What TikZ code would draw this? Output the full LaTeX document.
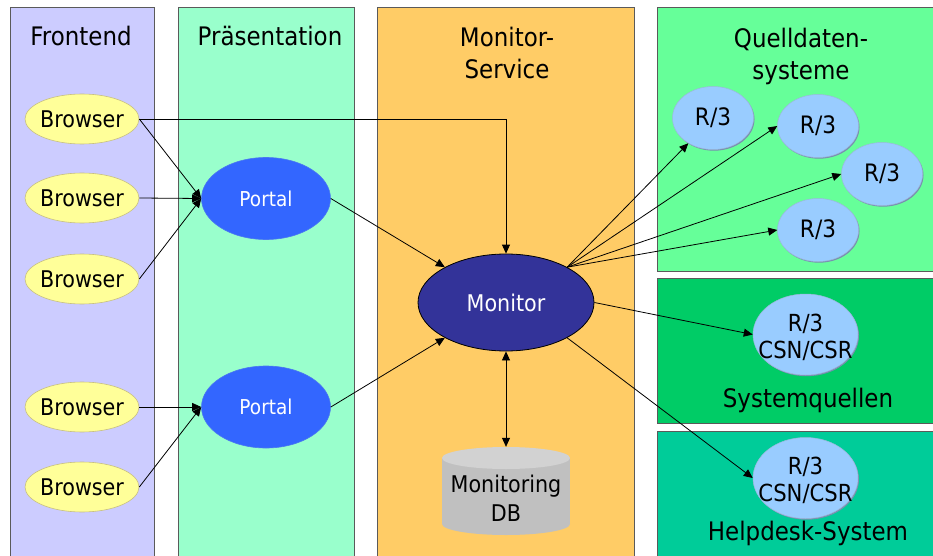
\documentclass[tikz,border=0pt]{standalone}
\usepackage{fontspec}
\setmainfont{DejaVu Sans}[FakeStretch=0.9]
\usetikzlibrary{shapes.geometric,arrows.meta}
\definecolor{cFront}{HTML}{CCCCFF}
\definecolor{cPres}{HTML}{99FFCC}
\definecolor{cMonS}{HTML}{FFCC66}
\definecolor{cQuell}{HTML}{66FF99}
\definecolor{cSysQ}{HTML}{00CC66}
\definecolor{cHelp}{HTML}{00CC99}
\definecolor{cLaneBorder}{HTML}{5A5A5A}
\definecolor{cBrowser}{HTML}{FFFF99}
\definecolor{cBrowserB}{HTML}{C8C080}
\definecolor{cPortal}{HTML}{3366FF}
\definecolor{cPortalB}{HTML}{4A78F0}
\definecolor{cMonitor}{HTML}{333399}
\definecolor{cRthree}{HTML}{99CCFF}
\definecolor{cRthreeB}{HTML}{9CB8DC}
\definecolor{cRshadow}{HTML}{7890B0}
\definecolor{cDBbody}{HTML}{C0C0C0}
\definecolor{cDBtop}{HTML}{D2D2D2}
\begin{document}
\begin{tikzpicture}[x=1pt,y=-1pt,
  lane/.style={draw=cLaneBorder, line width=0.9pt},
  title/.style={font=\fontsize{25.5}{32}\selectfont, inner sep=0pt},
  browser/.style={ellipse, draw=cBrowserB, fill=cBrowser, line width=0.6pt,
    minimum width=114, minimum height=50, inner sep=0pt,
    font=\fontsize{23}{27}\selectfont},
  portal/.style={ellipse, draw=cPortalB, fill=cPortal, line width=0.6pt,
    minimum width=129, minimum height=82, inner sep=0pt, text=white,
    font=\fontsize{20.5}{24}\selectfont},
  monitor/.style={ellipse, draw=black, fill=cMonitor, line width=0.8pt,
    minimum width=176, minimum height=97, inner sep=0pt, text=white,
    font=\fontsize{23}{27}\selectfont},
  rshade/.style={preaction={fill=cRshadow, transform canvas={shift={(1pt,-1.2pt)}}}},
  rthree/.style={ellipse, draw=cRthreeB, fill=cRthree, line width=0.5pt, rshade,
    minimum width=81, minimum height=63, inner sep=0pt,
    font=\fontsize{24}{28}\selectfont},
  rbig/.style={ellipse, draw=cRthreeB, fill=cRthree, line width=0.5pt, rshade,
    minimum width=105, minimum height=81, inner sep=0pt},
  rtext/.style={align=center, inner sep=0pt, font=\fontsize{23.5}{27}\selectfont},
  arr/.style={draw=black, line width=0.8pt, -{Triangle[length=9pt,width=8pt]}},
  arrtwo/.style={draw=black, line width=0.8pt, {Triangle[length=9pt,width=8pt]}-{Triangle[length=9pt,width=8pt]}}
]
\useasboundingbox (0,0) rectangle (933,556);

% lanes
\path[lane, fill=cFront] (10,7) rectangle (154,563);
\path[lane, fill=cPres] (178,7) rectangle (354,563);
\path[lane, fill=cMonS] (377,7) rectangle (634,563);
\path[lane, fill=cQuell] (657,7) rectangle (940,271);
\path[lane, fill=cSysQ] (657,278) rectangle (940,423);
\path[lane, fill=cHelp] (657,431) rectangle (940,563);

% titles
\node[title, anchor=base] (tFront) at (81,46) {Frontend};
\node[title, anchor=base] (tPres) at (270,46) {Präsentation};
\node[title, align=center] (tMon) at (507,53) {Monitor-\\Service};
\node[title, align=center] (tQuell) at (801,56) {Quelldaten-\\systeme};
\node[title, anchor=base] (tSys) at (808,407) {Systemquellen};
\node[title, anchor=base] (tHelp) at (808,540) {Helpdesk-System};

% browsers
\node[browser] (b1) at (82,119) {\makebox[60pt]{Browser}};
\node[browser] (b2) at (82,198) {\makebox[60pt]{Browser}};
\node[browser] (b3) at (82,279) {\makebox[60pt]{Browser}};
\node[browser] (b4) at (82,407) {\makebox[60pt]{Browser}};
\node[browser] (b5) at (82,487) {\makebox[60pt]{Browser}};

% portals
\node[portal] (p1) at (266,198.5) {Portal};
\node[portal] (p2) at (266,407) {Portal};

% monitor
\node[monitor] (mon) at (506,302.5) {Monitor};

% database
\fill[cDBbody] (442,458) rectangle (570,524);
\fill[cDBbody] (506,524) ellipse[x radius=64, y radius=11];
\fill[cDBtop] (506,458) ellipse[x radius=64, y radius=11];
\node[minimum width=128, minimum height=88, inner sep=0pt] (db) at (506,491) {};
\node[rtext, font=\fontsize{23}{29}\selectfont] (dbtext) at (506,498) {Monitoring\\DB};

% R/3 systems
\node[rthree] (q1) at (713,118) {R/3};
\node[rthree] (q2) at (818,126) {R/3};
\node[rthree] (q3) at (882,174) {R/3};
\node[rthree] (q4) at (818,230) {R/3};
\node[rbig] (sq) at (805.5,334.5) {};
\node[rtext] (sqtext) at (805.5,337) {R/3\\CSN/CSR};
\node[rbig] (hd) at (805.5,478) {};
\node[rtext] (hdtext) at (805.5,480) {R/3\\CSN/CSR};

% connectors
\draw[arr] (b1.east) -| (mon.north);
\draw[arr] (b1.east) -- (p1.west);
\draw[arr] (b2.east) -- (p1.west);
\draw[arr] (b3.east) -- (p1.west);
\draw[arr] (b4.east) -- (p2.west);
\draw[arr] (b5.east) -- (p2.west);
\draw[arr] (p1.east) -- (mon.150);
\draw[arr] (p2.east) -- (mon.210);
\draw[arrtwo] (mon.south) -- (db.north);
\draw[arr] (mon.30) -- (q1);
\draw[arr] (mon.30) -- (q2.west);
\draw[arr] (mon.30) -- (q3.west);
\draw[arr] (mon.30) -- (q4.west);
\draw[arr] (mon.east) -- (sq.west);
\draw[arr] (mon.-30) -- (hd.west);
\end{tikzpicture}
\end{document}
